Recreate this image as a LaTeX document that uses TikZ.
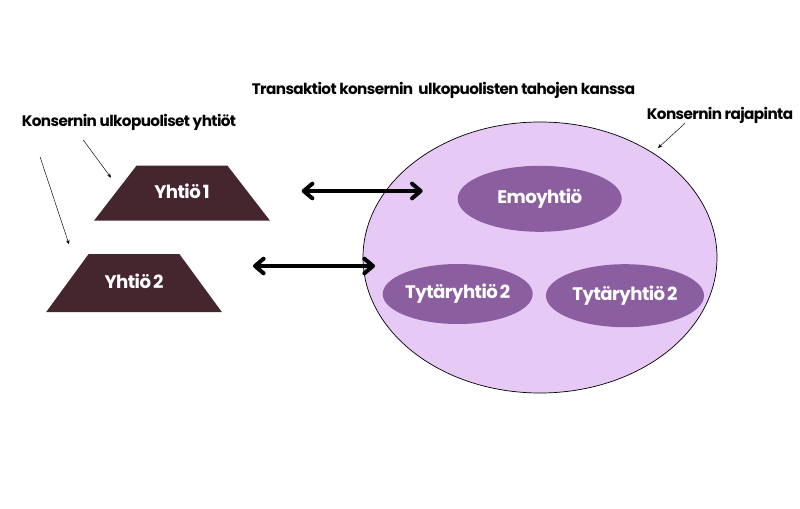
\documentclass[tikz,border=0pt]{standalone}
\usepackage{fontspec}
\setmainfont{Poppins}
\newfontfamily\nimifont{Poppins}[LetterSpace=-3,WordSpace=0.6]
\newfontfamily\otsikkofont{Poppins}[LetterSpace=-4]
\usepackage{tikz}
\usetikzlibrary{positioning,arrows.meta,shapes.geometric}
\definecolor{yhtio}{HTML}{45262F}
\definecolor{rajaväri}{HTML}{E6C9F4}
\definecolor{konserni}{HTML}{8B5EA0}

\begin{document}
\begin{tikzpicture}[x=0.03cm,y=-0.03cm,font=\bfseries]

  
  \tikzstyle{company}=[trapezium,fill=yhtio,text=white,inner sep=0pt,text width=2.73cm,align=flush center,font=\nimifont\bfseries\fontsize{15.5}{17}\selectfont]
  \tikzstyle{member}=[ellipse,fill=konserni,text=white,inner sep=0pt,font=\nimifont\bfseries\fontsize{15.5}{17}\selectfont]
  \tikzstyle{caption}=[inner sep=0pt,font=\otsikkofont\bfseries\fontsize{13}{15}\selectfont]
  \tikzstyle{flow}=[{Straight Barb[round,length=2.6mm,width=4.4mm]}-{Straight Barb[round,length=2.6mm,width=4.4mm]},line width=1.2mm]
  \tikzstyle{pointer}=[-{Stealth[length=1.3mm,width=1.1mm]},line width=0.4pt]

  \useasboundingbox (0,0) rectangle (800,509);

  
  \node[ellipse,draw,fill=rajaväri,line width=0.6pt,minimum width=10.62cm,minimum height=8.13cm] (raja) at (540,257.5) {};
  \node[member,minimum width=4.92cm,minimum height=1.98cm] (emo) at (539.7,198.8) {Emoyhtiö};
  \node[member,minimum width=4.5cm,minimum height=1.8cm] (tyt1) at (457.7,294) {Tytäryhtiö 2};
  \node[member,minimum width=4.74cm,minimum height=1.89cm] (tyt2) at (625,295.7) {Tytäryhtiö 2};

  
  \node[company,trapezium angle=52.3,text height=0.98cm,text depth=0.67cm] (y1) at (182,193.2) {Yhtiö 1};
  \node[company,trapezium angle=53.8,text height=1.03cm,text depth=0.71cm] (y2) at (134,283.2) {Yhtiö 2};

  
  \node[caption] (otsikko) at (443.5,90.7) {Transaktiot konsernin \ ulkopuolisten tahojen kanssa};
  \node[caption] (ulko) at (129,122.7) {Konsernin ulkopuoliset yhtiöt};
  \node[caption] (rajapinta) at (720,115) {Konsernin rajapinta};

  
  \coordinate (a1) at (301.7,191);
  \coordinate (b1) at (422.7,191);
  \coordinate (a2) at (253,266);
  \coordinate (b2) at (375,266);
  \draw[flow] (a1) -- (b1);
  \draw[flow] (a2) -- (b2);

  
  \coordinate (u1) at (83.3,140);
  \coordinate (u2) at (40,156.7);
  \coordinate (p1) at (111,177.7);
  \coordinate (p2) at (69,244.3);
  \coordinate (r1) at (685,123.3);
  \coordinate (r2) at (658,148);
  \draw[pointer] (u1) -- (p1);
  \draw[pointer] (u2) -- (p2);
  \draw[pointer] (r1) -- (r2);

\end{tikzpicture}
\end{document}
